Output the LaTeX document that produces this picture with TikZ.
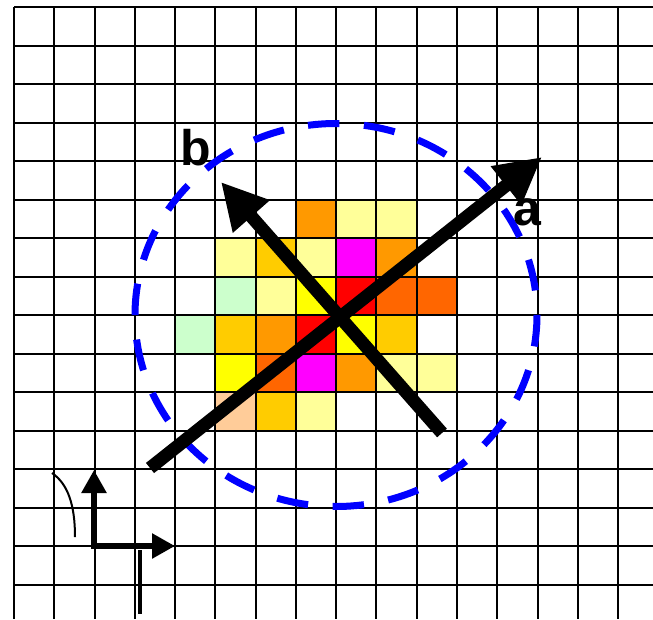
\documentclass[tikz,border=0pt]{standalone}
\usepackage{fontspec}
\setmainfont{Liberation Sans}
\usetikzlibrary{arrows.meta}
\definecolor{cor}{HTML}{FF9900}
\definecolor{cly}{HTML}{FFFF99}
\definecolor{cgd}{HTML}{FFCC00}
\definecolor{cmg}{HTML}{FF00FF}
\definecolor{crd}{HTML}{FF0000}
\definecolor{cye}{HTML}{FFFF00}
\definecolor{cdo}{HTML}{FF6600}
\definecolor{clg}{HTML}{CCFFCC}
\definecolor{cpe}{HTML}{FFCC99}
\definecolor{cbl}{HTML}{0000FF}
\tikzset{
  gridline/.style={line width=2pt, black},
  bigarrow/.style={line width=13pt, -{Triangle[length=46pt,width=46pt]}},
  smallarrow/.style={line width=5.5pt, {Triangle[length=23pt,width=24pt]}-{Triangle[length=23pt,width=24pt]}, line join=miter},
  dashring/.style={cbl, line width=7pt, dash pattern=on 31.5pt off 24.56pt},
  biglabel/.style={font=\fontsize{50}{50}\selectfont\bfseries, inner sep=0pt, anchor=base},
}
\begin{document}
\begin{tikzpicture}[x=1pt,y=-1pt]
\useasboundingbox (0,0) rectangle (653,619);
\fill[white] (0,0) rectangle (653,619);
% coloured cells
\foreach \c/\r/\col in {7/5/cor,8/5/cly,9/5/cly,
  5/6/cly,6/6/cgd,7/6/cly,8/6/cmg,9/6/cor,
  5/7/clg,6/7/cly,7/7/cye,8/7/crd,9/7/cdo,10/7/cdo,
  4/8/clg,5/8/cgd,6/8/cor,7/8/crd,8/8/cye,9/8/cgd,
  5/9/cye,6/9/cdo,7/9/cmg,8/9/cor,9/9/cly,10/9/cly,
  5/10/cpe,6/10/cgd,7/10/cly}
  \fill[\col] ({14+40.27*\c},{7+38.5*\r}) rectangle ++(40.27,38.5);
% grid
\foreach \i in {0,...,15} {
  \draw[gridline] ({14+40.27*\i},7) -- ({14+40.27*\i},619);
  \draw[gridline] (14,{7+38.5*\i}) -- (653,{7+38.5*\i});
}
% dashed ring
\coordinate (ctr) at (336,315);
\draw[dashring] (ctr) ellipse [x radius=201, y radius=191.5];
% big arrows
\coordinate (atail) at (150,468);
\coordinate (ahead) at (542,157);
\coordinate (btail) at (442,433);
\coordinate (bhead) at (221,182);
\draw[bigarrow] (atail) -- (ahead);
\draw[bigarrow] (btail) -- (bhead);
\node[biglabel] (la) at (527,225) {a};
\node[biglabel] (lb) at (196,165) {b};
% small axes
\coordinate (ytip) at (94,470);
\coordinate (org) at (94,546);
\coordinate (xtip) at (175,546);
\draw[smallarrow] (ytip) -- (org) -- (xtip);
\coordinate (cs) at (52,473);
\coordinate (ce) at (75,537);
\draw[line width=2pt] (cs) .. controls (68,484) and (75,505) .. (ce);
\coordinate (vs) at (140,550);
\coordinate (ve) at (140,614);
\draw[line width=4pt] (vs) -- (ve);
\end{tikzpicture}
\end{document}
